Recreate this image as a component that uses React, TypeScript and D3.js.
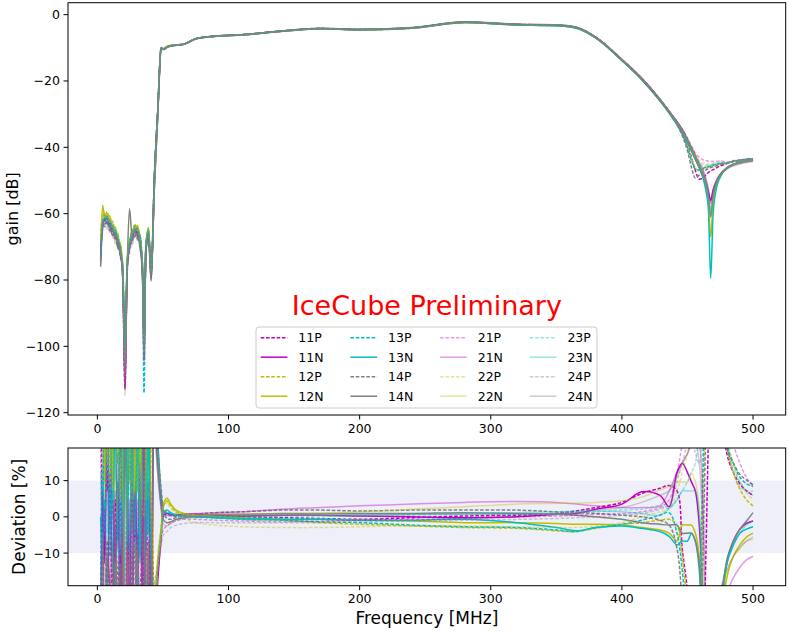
import React from "react";
import * as d3 from "d3";

// frequency grid [MHz]: noise floor, rising edge, pass band, notch
const freqs = [
  2.5, 4, 5.5, 7.5, 9.5, 11.5, 13.5, 15.5, 17.5, 19.3, 21.1, 22.7, 24.5, 26.5, 28.5, 30.5, 32.5, 34.4, 35.6, 37, 39, 41,
  43.5, 46, 48.6,
  50.5, 53, 56, 60, 66, 75, 90, 110, 140, 170, 200, 240, 280, 320, 350, 365, 380, 400, 415, 429,
  436, 442, 446, 450, 453, 456, 459, 462, 464, 466, 467.7, 469.5, 472, 475, 480, 485, 490, 495, 500,
];

// mean gain curve [dB]
const baseGain = [
  -71, -63, -61.5, -62, -63, -64.5, -66, -68, -71, -77, -104, -76, -69.5, -66.5, -65, -65.5, -68, -77, -102, -70, -66, -78,
  -50, -30, -10.3,
  -10.4, -9.8, -9.4, -9.2, -8.9, -7.3, -6.5, -6.1, -5.0, -4.2, -4.5, -4.0, -2.3, -3.0, -3.2, -3.9, -6.9, -13.7, -19.4, -25.8,
  -29.4, -32.8, -35.3, -38.3, -40.8, -43.3, -45.5, -47, -47.8, -48.5, -48.8, -48.6, -48, -47, -45.6, -44.8, -44.35, -44.0, -43.8,
];

const seriesNames = ["11P", "11N", "12P", "12N", "13P", "13N", "14P", "14N",
  "21P", "21N", "22P", "22N", "23P", "23N", "24P", "24N"];
const seriesColors = ["#bf00bf", "#bf00bf", "#bfbf00", "#bfbf00", "#00bfbf", "#00bfbf", "#808080", "#808080",
  "#bf00bf", "#bf00bf", "#bfbf00", "#bfbf00", "#00bfbf", "#00bfbf", "#808080", "#808080"];

// per channel offset from the mean curve [dB]
const off11P = [
  2, -0.4, 1.2, 0.3, 1.5, -1.2, 0.2, -1.8, 0.5, -2, -9, 0.4, -1, 1.4, -0.3, 1.2, 0.2, 0.8, -2, 0.4, -1.4, 2,
  1.14, 0.72, 0.25, 0.07, 0.04, 0.02, 0.01, 0.01, 0.02, 0.01, 0, -0.01, -0.02, -0.03, -0.01, 0.01, 0.02, 0.04, 0.07, 0.11, 0.17, 0.27, 0.33,
  0.36, 0.3, -0.4, -1.0, -2.2, -3.7, -4.1, -2.2, -0.5, 0.9, 1.7, 1.9, 1.8, 1.4, 0.7, 0.5, 0.38, 0.3, 0.25,
];
const off11N = [
  -3, 0.3, -0.6, 1.4, -0.2, 0.8, -1.5, 0.4, -0.8, 1.2, -8, -0.3, 1.2, -0.2, 1.1, -1.3, 0.3, -1.5, 3, 0.1, 1.3, -0.4,
  -1.87, -0.86, -0.27, 0.02, 0.04, 0.03, 0.02, 0.03, 0.03, 0.02, 0.01, 0.02, 0.02, 0.01, 0, -0.01, 0, 0.03, 0.04, 0.09, 0.15, 0.29, 0.25,
  0.12, 0.5, 0.6, 0.5, 0.4, 0.3, -0.1, -1.3, -2.7, -5.0, -7.2, -4.4, -2.3, -1.2, -0.6, -0.3, -0.15, -0.08, -0.05,
];
const off12P = [
  4, 2.5, 0.5, 2.6, 0.3, 2.2, 0.8, 1.9, 0.2, 2.1, 3, 0.4, 1.6, -0.2, 1.8, 0.3, 1.5, -0.5, 2, 0.5, 0.3, 1.2,
  -1.25, -0.56, -0.13, 0.13, 0.19, 0.13, 0.06, 0.03, 0.01, -0.01, -0.03, -0.04, -0.07, -0.09, -0.11, -0.13, -0.14, -0.17, -0.18, -0.14, -0.09, -0.07, -0.04,
  -0.03, -0.1, -0.5, -1.3, -2.5, -2.9, -1.5, 0.4, 1.5, 2.5, 3.0, 3.0, 2.7, 2.0, 0.8, 0.5, 0.32, 0.2, 0.13,
];
const off12N = [
  1, 5.5, 0.4, 1.3, 2.4, 0.2, 2, 0.6, 1.7, -0.3, 5, 1.8, 0.4, 1.7, 0.1, 2, 0.5, 1.6, 4, 0.5, 1.8, -0.5,
  -1.55, -0.66, -0.22, 0.15, 0.22, 0.15, 0.08, 0.04, 0.02, 0, -0.01, -0.03, -0.03, -0.04, -0.05, -0.07, -0.07, -0.08, -0.09, -0.09, -0.1, -0.13, -0.16,
  -0.2, -0.3, -0.1, -0.1, -0.1, -0.2, -0.5, -2.0, -4.2, -8.5, -18.2, -8.9, -3.5, -1.7, -0.8, -0.5, -0.35, -0.25, -0.2,
];
const off13P = [
  -1, 0.5, -0.2, 1.2, -0.5, 0.3, -1.2, 0.4, -1.5, 1.5, 6, -0.3, 0.8, -1.2, 0.2, -0.9, 1.3, -0.4, -12, 1.1, -0.2, 1.5,
  1.3, 0.79, 0.21, 0.05, 0.06, 0.04, 0.03, 0.01, 0, -0.01, -0.03, -0.04, -0.06, -0.07, -0.1, -0.12, -0.13, -0.16, -0.18, -0.13, -0.09, -0.04, 0.02,
  0.05, -0.2, -0.7, -1.7, -3.2, -3.2, -1.3, 0.7, 1.8, 2.7, 3.2, 3.2, 2.8, 2.1, 0.8, 0.6, 0.45, 0.38, 0.35,
];
const off13N = [
  0, -0.6, 0.2, -1, 0.4, -0.7, 1.1, -0.3, 1, -1.6, 2, 0.3, -0.5, 1, -0.2, 0.8, -0.6, 1.8, 4.5, -0.4, 0.9, -1.8,
  1.4, 0.86, 0.25, 0.06, 0.08, 0.05, 0.02, 0.01, 0, -0.01, -0.02, -0.03, -0.03, -0.04, -0.04, -0.03, -0.07, -0.13, -0.17, -0.13, -0.11, -0.14, -0.18,
  -0.24, -0.35, -0.3, -0.3, -0.2, -0.3, -0.7, -2.5, -5.2, -10.5, -30.7, -11.9, -4.5, -2.0, -0.6, -0.35, -0.2, -0.15, -0.12,
];
const off14P = [
  -2, -0.5, -2.4, -0.3, -2.1, -1, -0.4, -0.8, -2, -0.2, -4, -2, -0.5, -1.9, -0.3, -2.2, -1, -0.4, 1, -1.5, -0.3, -0.8,
  1.46, 0.79, 0.33, 0.09, -0.02, -0.03, -0.01, 0.01, 0.03, 0.05, 0.06, 0.08, 0.08, 0.07, 0.08, 0.08, 0.08, 0.06, 0.05, 0.04, 0.02, 0, -0.04,
  -0.1, -0.4, -1.2, -2.7, -5.2, -6.0, -2.8, -0.3, 1.0, 2.1, 2.7, 2.7, 2.4, 1.8, 0.75, 0.6, 0.48, 0.42, 0.37,
];
const off14N = [
  -5, -0.2, -1.6, -0.5, -0.9, -1.9, -0.1, -2.2, -0.6, -1.9, 1, -0.3, 11, -0.4, -2, -0.2, -1.9, -0.6, 2, -2, -0.4, -2.3,
  0.97, 0.61, 0.13, -0.04, -0.07, -0.06, -0.03, -0.01, 0.01, 0.03, 0.03, 0.04, 0.04, 0.04, 0.04, 0.05, 0.04, 0.03, 0.02, 0, -0.03, -0.07, -0.09,
  -0.1, -0.1, -0.2, -0.2, -0.2, -0.3, -0.6, -1.8, -3.5, -6.8, -12.2, -6.5, -3.0, -1.5, -0.55, -0.3, -0.15, -0.05, 0.05,
];
const off21P = [
  1, -2, 0.1, -1.6, 0.5, -2.1, 0.3, -0.4, 1.5, -2.5, -7, 0.2, -1.8, 0.4, -1.5, 0.2, -2, 0.2, -2.5, -0.3, -1.8, 0.3,
  -0.97, -0.71, -0.27, -0.15, -0.11, -0.08, -0.05, -0.03, -0.03, -0.04, -0.05, -0.06, -0.05, -0.04, -0.03, -0.02, 0, 0.01, 0.02, 0.03, 0.04, 0.06, 0.11,
  0.2, 0.5, 0.8, 1.1, 1.2, 1.5, 2.5, 3.2, 3.8, 4.3, 4.5, 4.3, 3.8, 2.9, 1.2, 0.8, 0.6, 0.45, 0.35,
];
const off21N = [
  -1.5, 0.3, -0.5, 0.5, -1.4, 0.2, -0.6, 0.7, -1.1, 0.1, -3, -2, 0.2, -1.6, 0.3, -0.4, 0.6, -1.2, 1.5, -0.5, 0.4, -1.5,
  1.14, 0.49, 0.17, 0.04, 0.02, 0.01, 0.02, 0.03, 0.04, 0.05, 0.06, 0.09, 0.11, 0.13, 0.15, 0.17, 0.18, 0.17, 0.15, 0.13, 0.11, 0.11, 0.13,
  0.3, 0.5, 0.6, 0.7, 0.8, 0.9, 0.8, 0.0, -1.4, -4.0, -8.2, -4.2, -2.0, -1.2, -1.0, -0.8, -0.65, -0.55, -0.5,
];
const off22P = [
  3, 0.4, 2.4, 0.6, 1.8, 0.3, 0.4, 2.4, 0.2, 0.8, 1, 2.2, 0.5, 0.3, 1.2, 0.3, 2, 0.1, 0, 1.7, 0.2, 0.4,
  -0.97, -0.46, -0.13, 0.15, 0.16, 0.09, 0.02, -0.02, -0.07, -0.1, -0.12, -0.13, -0.13, -0.12, -0.11, -0.11, -0.12, -0.13, -0.13, -0.11, -0.07, 0, 0.06,
  0.1, 0.3, 0.5, 0.7, 0.9, 1.1, 1.6, 2.3, 2.9, 3.5, 3.8, 3.7, 3.3, 2.5, 0.9, 0.6, 0.4, 0.28, 0.2,
];
const off22N = [
  2, 3, 0.2, 2.1, 0.5, 1.7, -0.1, 0.3, 2.2, 0.4, -2, 0.3, 2, 0.2, 0.5, 1.6, -0.2, 2.1, 3, 0.2, 1.6, 0.3,
  -1.08, -0.56, -0.18, 0.13, 0.17, 0.13, 0.06, 0.03, 0.02, 0.02, 0.03, 0.03, 0.04, 0.06, 0.09, 0.12, 0.15, 0.16, 0.16, 0.17, 0.19, 0.23, 0.31,
  0.35, 0.4, 0.4, 0.4, 0.5, 0.4, 0.1, -1.0, -3.0, -7.5, -17.2, -8.0, -3.2, -1.4, -0.7, -0.5, -0.4, -0.3, -0.28,
];
const off23P = [
  0.5, -0.3, 1.5, -0.2, 1.1, 0.2, 1.6, -0.5, 0.1, 0.5, 4, -0.4, 1.4, 0.3, 1.6, -0.4, 0.2, 0.6, 2.5, 0.7, -0.3, 0.9,
  0.97, 0.57, 0.13, 0, 0.02, 0.02, 0.01, 0, -0.01, -0.01, -0.01, 0, 0.01, 0.01, 0.02, 0.03, 0.03, 0.04, 0.05, 0.06, 0.08, 0.09, 0.13,
  0.1, 0.2, 0.3, 0.4, 0.5, 0.6, 1.0, 1.8, 2.5, 3.2, 3.6, 3.6, 3.2, 2.4, 0.85, 0.55, 0.4, 0.3, 0.25,
];
const off23N = [
  -2.5, 0.8, 0.1, 0.2, -0.4, 1.5, 0.4, 1.1, -0.5, 0.3, -1, 0.9, -0.2, 0.1, 0.1, 1.1, -0.5, 0.3, 0.5, -0.5, 1.4, -0.4,
  -1.43, -0.66, -0.18, 0.03, 0.05, 0.03, 0.02, 0.01, 0, 0, 0.01, 0.02, 0.02, 0.03, 0.03, 0.04, 0.05, 0.06, 0.07, 0.07, 0.06, 0.04, 0.02,
  0.1, 0.2, 0.3, 0.3, 0.3, 0.3, 0, -1.2, -2.8, -6.2, -11.2, -6.0, -2.6, -1.1, -0.6, -0.35, -0.2, -0.1, -0.05,
];
const off24P = [
  -3.5, -0.6, -1.5, -2.8, -0.2, -2.5, -1.6, -0.5, -1.1, -2.4, -5, -0.4, -2.7, -1.3, -0.3, -1.1, -2.8, -0.2, -1, -2.6, -0.4, -2.2,
  -0.86, -0.66, -0.36, -0.22, -0.18, -0.13, -0.1, -0.08, -0.07, -0.07, -0.07, -0.07, -0.07, -0.06, -0.05, -0.04, -0.03, -0.02, -0.01, 0, 0.02, 0.04, 0.09,
  0.15, 0.4, 0.6, 0.8, 0.9, 0.7, 0.6, 1.2, 2.0, 2.8, 3.3, 3.3, 3.0, 2.3, 0.8, 0.5, 0.35, 0.3, 0.3,
];
const off24N = [
  -4, -2, -0.5, -1.5, -2.6, -0.3, -2.8, -1.2, -0.2, -0.9, -11, -2.5, -0.3, -2.9, -1.2, -0.4, -1.6, -2.6, -3, -0.3, -2.6, -1.4,
  0.86, 0.49, 0.09, -0.09, -0.11, -0.08, -0.04, -0.02, 0, 0.01, 0.02, 0.02, 0.02, 0.02, 0.03, 0.03, 0.03, 0.04, 0.05, 0.08, 0.11, 0.17, 0.25,
  0.3, 0.45, 0.6, 0.7, 0.8, 0.8, 0.6, -0.4, -2.0, -5.5, -10.2, -5.2, -2.3, -1.0, -0.7, -0.5, -0.38, -0.3, -0.25,
];
const seriesOffsets = [off11P, off11N, off12P, off12N, off13P, off13N, off14P, off14N,
  off21P, off21N, off22P, off22N, off23P, off23N, off24P, off24N];

const xTicks = [0, 100, 200, 300, 400, 500];
const gainTicks = [-120, -100, -80, -60, -40, -20, 0];
const devTicks = [-10, 0, 10];

const W = 789;
const H = 631;
const left = 68;
const right = 785.7;
const top1 = 2.7, bottom1 = 415;
const top2 = 448, bottom2 = 585.7;
const FONT = "DejaVu Sans, sans-serif";

const x = d3.scaleLinear().domain([-22.4, 524.9]).range([left, right]);
const yGain = d3.scaleLinear().domain([-120.7, 3.6]).range([bottom1, top1]);
const yDev = d3.scaleLinear().domain([-19, 19]).range([bottom2, top2]);

const fmt = (v: number) => (v < 0 ? "\u2212" + Math.abs(v) : String(v));

const series = seriesNames.map((name, i) => ({
  name,
  color: seriesColors[i],
  dashed: name.endsWith("P"),
  faded: name.startsWith("2"),
  gain: freqs.map((f, j) => [f, baseGain[j] + seriesOffsets[i][j]] as [number, number]),
  dev: freqs.map((f, j) => [f, (Math.pow(10, seriesOffsets[i][j] / 10) - 1) * 100] as [number, number]),
}));

const gainLine = d3.line<[number, number]>()
  .x(d => x(d[0]))
  .y(d => yGain(d[1]))
  .curve(d3.curveMonotoneX);
const devLine = d3.line<[number, number]>()
  .x(d => x(d[0]))
  .y(d => yDev(d[1]))
  .curve(d3.curveCatmullRom.alpha(0.5));

const LW = 1.5;
const DASH = "3.6 1.7";

const XAxis: React.FC<{ y0: number }> = ({ y0 }) => (
  <g>
    {xTicks.map(t => (
      <g key={t}>
        <line x1={x(t)} x2={x(t)} y1={y0} y2={y0 + 4.5} stroke="#000" strokeWidth={1} />
        <text x={x(t)} y={y0 + 17.7} textAnchor="middle" fontSize={12.5} fontFamily={FONT}>{fmt(t)}</text>
      </g>
    ))}
  </g>
);

const YAxis: React.FC<{ ticks: number[]; scale: d3.ScaleLinear<number, number> }> = ({ ticks, scale }) => (
  <g>
    {ticks.map(t => (
      <g key={t}>
        <line x1={left - 4.5} x2={left} y1={scale(t)} y2={scale(t)} stroke="#000" strokeWidth={1} />
        <text x={left - 8} y={scale(t) + 4.5} textAnchor="end" fontSize={12.5} fontFamily={FONT}>{fmt(t)}</text>
      </g>
    ))}
  </g>
);

export default function App() {
  return (
    <svg width={W} height={H} style={{ position: "absolute", left: 0, top: 0, background: "#fff" }}>
      <defs>
        <clipPath id="clipTop">
          <rect x={left} y={top1} width={right - left} height={bottom1 - top1} />
        </clipPath>
        <clipPath id="clipBot">
          <rect x={left} y={top2} width={right - left} height={bottom2 - top2} />
        </clipPath>
      </defs>
      <rect x={0} y={0} width={W} height={H} fill="#fff" />

      {/* gain panel */}
      <g clipPath="url(#clipTop)">
        {series.map(s => (
          <path key={s.name} d={gainLine(s.gain) ?? ""} fill="none" stroke={s.color}
            strokeWidth={LW} strokeOpacity={s.faded ? 0.4 : 1}
            strokeDasharray={s.dashed ? DASH : undefined} />
        ))}
      </g>
      <rect x={left} y={top1} width={right - left} height={bottom1 - top1} fill="none" stroke="#000" strokeWidth={1} />
      <XAxis y0={bottom1} />
      <YAxis ticks={gainTicks} scale={yGain} />
      <text transform={`translate(18,${(top1 + bottom1) / 2}) rotate(-90)`} textAnchor="middle"
        fontSize={16} fontFamily={FONT}>gain [dB]</text>

      <text x={(left + right) / 2} y={315} textAnchor="middle" fontSize={27} fontFamily={FONT} fill="#ff0000">
        IceCube Preliminary
      </text>

      {/* legend */}
      <g>
        <rect x={256} y={327} width={341} height={81} rx={3} fill="#fff" fillOpacity={0.8} stroke="#cccccc" strokeWidth={1} />
        {series.map((s, i) => {
          const col = Math.floor(i / 4);
          const row = i % 4;
          const lx = 260.7 + col * 89.7;
          const ly = 337.7 + row * 19.5;
          return (
            <g key={s.name}>
              <line x1={lx} x2={lx + 26.7} y1={ly} y2={ly} stroke={s.color} strokeWidth={LW}
                strokeOpacity={s.faded ? 0.4 : 1} strokeDasharray={s.dashed ? DASH : undefined} />
              <text x={lx + 37.6} y={ly + 4.5} fontSize={12.5} fontFamily={FONT}>{s.name}</text>
            </g>
          );
        })}
      </g>

      {/* deviation panel */}
      <rect x={left} y={yDev(10)} width={right - left} height={yDev(-10) - yDev(10)} fill="rgb(239,239,250)" />
      <g clipPath="url(#clipBot)">
        {series.map(s => (
          <path key={s.name} d={devLine(s.dev) ?? ""} fill="none" stroke={s.color}
            strokeWidth={LW} strokeOpacity={s.faded ? 0.4 : 1}
            strokeDasharray={s.dashed ? DASH : undefined} />
        ))}
      </g>
      <rect x={left} y={top2} width={right - left} height={bottom2 - top2} fill="none" stroke="#000" strokeWidth={1} />
      <XAxis y0={bottom2} />
      <YAxis ticks={devTicks} scale={yDev} />
      <text transform={`translate(24.5,${(top2 + bottom2) / 2}) rotate(-90)`} textAnchor="middle"
        fontSize={17} fontFamily={FONT}>Deviation [%]</text>
      <text x={(left + right) / 2} y={624} textAnchor="middle" fontSize={17} fontFamily={FONT}>Frequency [MHz]</text>
    </svg>
  );
}
